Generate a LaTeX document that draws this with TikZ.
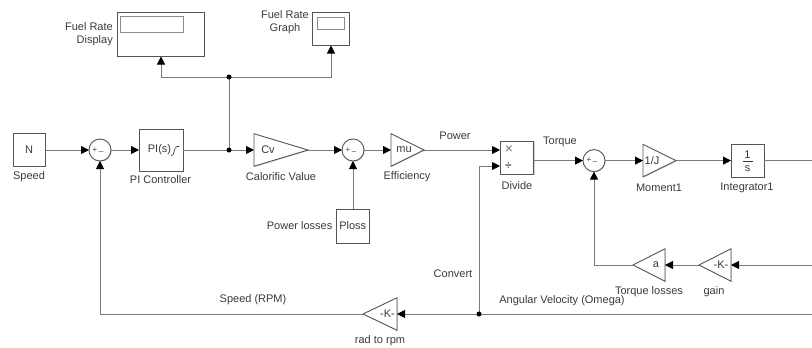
\documentclass[tikz,border=0pt]{standalone}
\usepackage{fontspec}
\setmainfont{Liberation Sans}
\usetikzlibrary{arrows.meta,shapes.geometric,shadows}
\definecolor{wirec}{HTML}{7A7A7A}
\definecolor{edgec}{HTML}{555555}
\definecolor{textc}{HTML}{3A3A3A}
\tikzset{
  softshadow/.style={drop shadow={shadow xshift=0.8pt,shadow yshift=-0.8pt,opacity=.3,fill=black!60}},
  blockbox/.style={draw=edgec,line width=0.9pt,fill=white,inner sep=0pt,outer sep=0pt,text=textc,softshadow,font=\fontsize{11}{12}\selectfont},
  innerbox/.style={draw=black!45,line width=0.7pt,fill=white,inner sep=0pt},
  gainr/.style={isosceles triangle,isosceles triangle stretches,draw=edgec,line width=0.9pt,fill=white,inner sep=0pt,outer sep=0pt,minimum height=#1,minimum width=32.5pt,softshadow},
  gainl/.style={gainr=#1,shape border rotate=180},
  sumnode/.style={circle,draw=edgec,line width=0.9pt,fill=white,minimum size=22pt,inner sep=0pt,outer sep=0pt,softshadow},
  lbl/.style={text=textc,inner sep=0pt,font=\fontsize{11}{12}\selectfont},
  sign/.style={text=textc,inner sep=0pt,font=\fontsize{8}{8}\selectfont},
  wire/.style={draw=wirec,line width=0.9pt},
  arr/.style={wire,-{Triangle[length=8pt,width=8pt,fill=black,color=black]}},
  dotj/.style={circle,fill=black,minimum size=5pt,inner sep=0pt},
}
\begin{document}
\begin{tikzpicture}[x=1pt,y=-1pt]
\useasboundingbox (0,0) rectangle (812,348);
% blocks
\node[blockbox,minimum width=87.5pt,minimum height=43.5pt] (frd) at (160.7,34.2) {};
\node[innerbox,minimum width=63pt,minimum height=16pt] (frdi) at (151.5,24) {};
\node[blockbox,minimum width=37.5pt,minimum height=32.5pt] (frg) at (330.7,28.7) {};
\node[innerbox,minimum width=27pt,minimum height=12pt] (frgi) at (331,23) {};
\node[blockbox,minimum width=32.5pt,minimum height=33pt] (nblk) at (29.2,149.5) {N};
\node[sumnode] (s1) at (100,150) {};
\node[blockbox,minimum width=44pt,minimum height=42pt,anchor=center] (pi) at (161,150.5) {};
\node[gainr=54pt,minimum width=32.5pt,anchor=apex] (cv) at (308,150) {};
\node[sumnode] (s2) at (353,150) {};
\node[gainr=33pt,anchor=apex] (mu) at (424,150) {};
\node[blockbox,minimum width=33.5pt,minimum height=33pt] (div) at (517,157.5) {};
\node[sumnode] (s3) at (594,160.6) {};
\node[gainr=33pt,anchor=apex] (mom) at (676,160.6) {};
\node[blockbox,minimum width=33pt,minimum height=33pt] (int) at (747.5,160.6) {};
\node[blockbox,minimum width=33pt,minimum height=34pt] (ploss) at (352.7,226) {Ploss};
\node[gainl=32pt,anchor=apex] (tl) at (633,265) {};
\node[gainl=32pt,anchor=apex] (gn) at (699,265) {};
\node[gainl=34pt,anchor=apex] (rad) at (363,314) {};
% block contents
\node[lbl] (tpi) at (159.5,150) {PI(s)};
\draw[draw=textc,line width=0.6pt] (171,156) .. controls (175,156) and (173.5,146.5) .. (177,146.5) -- (179,146.5);
\node[lbl] (tcv) at (268,150) {Cv};
\node[lbl] (tmu) at (404,150) {mu};
\node[lbl] (tmom) at (652,160.6) {1/J};
\node[lbl] (tone) at (747.5,155) {1};
\draw[draw=textc,line width=0.8pt] (742.5,161.5) -- (752.5,161.5);
\node[lbl] (ts) at (747.5,168.5) {s};
\node[lbl] (ta) at (656,265) {a};
\node[lbl] (tk1) at (721,265) {-K-};
\node[lbl] (tk2) at (387.5,314) {-K-};
\node[text=black!55,inner sep=0pt,font=\fontsize{14}{14}\selectfont] (tx) at (509,150) {×};
\node[text=black,inner sep=0pt,font=\fontsize{12}{12}\selectfont] (td) at (508.5,166.5) {÷};
\foreach \s in {s1,s2,s3}{
  \node[sign] at ([xshift=-5pt]\s.center) {+};
  \node[sign] at ([xshift=1pt,yshift=-1pt]\s.center) {\_};
}
% coordinates
\coordinate (j1) at (229,150);
\coordinate (j2) at (229,77);
\coordinate (j3) at (479,314);
\coordinate (dinA) at (500,150);
\coordinate (dinB) at (500,166);
\coordinate (doutc) at (534,160.6);
\coordinate (rt1) at (812,160.6);
\coordinate (rt2) at (812,265);
\coordinate (rt3) at (812,314);
\coordinate (frdb) at (161,56.5);
\coordinate (frgb) at (331,45.5);
\coordinate (c1) at (100,314);
\coordinate (c2) at (594,265);
% connectors
\draw[arr] (nblk.east |- s1.west) -- (s1.west);
\draw[arr] (s1.east) -- (pi.west |- s1.east);
\draw[wire] (pi.east |- j1) -- (j1);
\draw[arr] (j1) -- (cv.lower side);
\draw[arr] (cv.apex) -- (s2.west);
\draw[arr] (s2.east) -- (mu.lower side);
\draw[arr] (mu.apex) -- (dinA);
\draw[arr] (doutc) -- (s3.west);
\draw[arr] (s3.east) -- (mom.lower side);
\draw[arr] (mom.apex) -- (int.west);
\draw[wire] (int.east) -- (rt1);
\draw[wire] (j1) -- (j2);
\draw[arr] (j2) -| (frdb);
\draw[arr] (j2) -| (frgb);
\draw[arr] (ploss.north -| s2.south) -- (s2.south);
\draw[arr] (rt2) -- (gn.lower side);
\draw[arr] (gn.apex) -- (tl.lower side);
\draw[arr] (tl.apex) -- (c2) -- (s3.south);
\draw[arr] (rt3) -- (rad.lower side);
\draw[arr] (rad.apex) -- (c1) -- (s1.south);
\draw[arr] (j3) |- (dinB);
\node[dotj] (d1) at (j1) {};
\node[dotj] (d2) at (j2) {};
\node[dotj] (d3) at (j3) {};
% labels
\node[lbl,align=right,anchor=east] (l1) at (113,34) {Fuel Rate\\[1.5pt]Display};
\node[lbl,align=center] (l2) at (285,22) {Fuel Rate\\[1.5pt]Graph};
\node[lbl] (l3) at (29,177) {Speed};
\node[lbl] (l4) at (160.5,180) {PI Controller};
\node[lbl] (l5) at (281,177) {Calorific Value};
\node[lbl] (l6) at (407,177) {Efficiency};
\node[lbl] (l7) at (455,136) {Power};
\node[lbl] (l8) at (517,186) {Divide};
\node[lbl] (l9) at (560,142) {Torque};
\node[lbl] (l10) at (659,187.5) {Moment1};
\node[lbl] (l11) at (747,187.5) {Integrator1};
\node[lbl] (l12) at (453,274) {Convert};
\node[lbl] (l13) at (562,300.5) {Angular Velocity (Omega)};
\node[lbl] (l14) at (649,291.5) {Torque losses};
\node[lbl] (l15) at (714,291.5) {gain};
\node[lbl] (l16) at (253,300) {Speed (RPM)};
\node[lbl] (l17) at (380,341) {rad to rpm};
\node[lbl,anchor=east] (l18) at (332.5,226) {Power losses};
\end{tikzpicture}
\end{document}
